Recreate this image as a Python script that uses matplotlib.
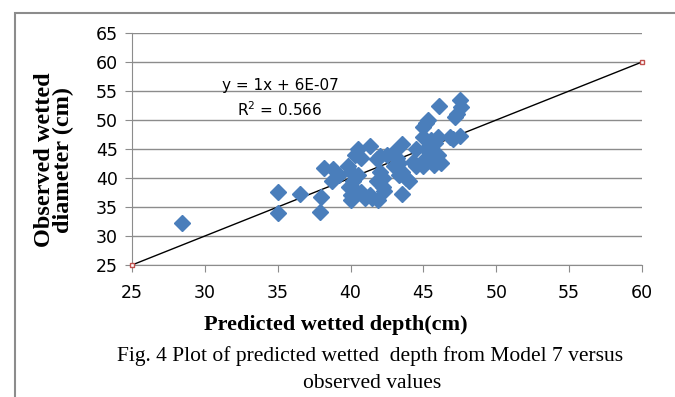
import matplotlib
matplotlib.use('Agg')
import matplotlib.pyplot as plt
from matplotlib.patches import Rectangle

# predicted (x) vs observed (y) wetted values
pred = [28.4, 35.0, 35.0, 36.5, 37.9, 38.0, 38.2, 38.8, 38.7, 39.2,
        39.8, 40.0, 39.9, 40.0, 40.0, 40.3, 40.5, 40.2, 40.5, 40.7,
        40.3, 40.7, 41.0, 41.3, 41.3, 41.5, 41.8, 42.0, 42.0, 42.2,
        41.9, 42.3, 42.5, 41.8, 42.2, 43.0, 43.2, 43.5, 43.3, 43.5,
        43.5, 43.8, 44.0, 43.3, 43.0, 44.5, 44.3, 44.5, 45.0, 45.2,
        45.3, 45.0, 45.5, 45.2, 45.0, 45.0, 45.5, 45.7, 46.0, 46.0,
        46.0, 46.2, 46.1, 45.8, 46.8, 47.0, 47.3, 47.5, 47.6, 47.5, 47.2]
obs = [32.3, 37.5, 34.0, 37.2, 34.2, 36.8, 41.7, 41.5, 39.5, 40.5,
       42.0, 41.0, 38.5, 37.0, 36.2, 38.0, 40.5, 39.5, 45.0, 43.5,
       44.0, 37.5, 36.5, 45.5, 37.0, 36.5, 43.2, 43.8, 41.0, 38.5,
       36.2, 37.8, 44.0, 39.5, 40.0, 44.5, 43.5, 45.8, 42.5, 41.0,
       37.3, 40.0, 39.5, 40.5, 42.0, 45.0, 42.8, 42.0, 48.8, 49.5,
       50.0, 47.0, 46.5, 45.0, 43.0, 42.0, 44.0, 42.3, 47.0, 44.0,
       43.0, 42.5, 52.4, 46.0, 47.0, 46.7, 51.0, 53.5, 52.2, 47.2, 50.5]

line_x = [25, 60]
line_y = [25, 60]

xticks = [25, 30, 35, 40, 45, 50, 55, 60]
yticks = [25, 30, 35, 40, 45, 50, 55, 60, 65]

tick_font = ['Liberation Sans Narrow', 'DejaVu Sans']
serif = ['Liberation Serif', 'DejaVu Serif']

fig = plt.figure(figsize=(6.75, 3.97), dpi=100)
fig.patches.append(Rectangle((15/675, -0.1), 1.0, 1 - 13/397 + 0.1,
                             transform=fig.transFigure, fill=False,
                             edgecolor='#8c8c8c', linewidth=1.5))

ax = fig.add_axes([132/675, 1 - 265/397, 510/675, 232/397])
ax.set_xlim(25, 60)
ax.set_ylim(25, 65)
ax.set_xticks(xticks)
ax.set_yticks(yticks)
ax.grid(axis='y', color='#8c8c8c', linewidth=1)
ax.set_axisbelow(True)
for s in ['top', 'right']:
    ax.spines[s].set_visible(False)
for s in ['left', 'bottom']:
    ax.spines[s].set_color('#8c8c8c')
ax.tick_params(axis='both', colors='#8c8c8c', length=5, labelcolor='black')
ax.tick_params(axis='x', pad=9)
ax.tick_params(axis='y', pad=5)
for lab in ax.get_xticklabels() + ax.get_yticklabels():
    lab.set_family(tick_font)
    lab.set_fontsize(12.5)

ax.plot(line_x, line_y, color='black', linewidth=1, zorder=2)
ax.plot(pred, obs, linestyle='none', marker='D', markersize=8.5,
        color='#4a7ebb', zorder=3)
ax.plot(line_x, line_y, linestyle='none', marker='s', markersize=3.5,
        markerfacecolor='white', markeredgecolor='#c0504d', clip_on=False, zorder=4)

ax.text(31.2, 56.0, 'y = 1x + 6E-07', family=tick_font, fontsize=11,
        ha='left', va='center')
ax.text(32.2, 51.7, 'R$^2$ = 0.566', family=tick_font, fontsize=11,
        ha='left', va='center')

fig.text(54/675, 1 - 160/397, 'Observed wetted\ndiameter (cm)', family=serif,
         fontsize=17.5, fontweight='bold', rotation=90, ha='center',
         va='center', linespacing=0.9)
fig.text(336/675, 1 - 325/397, 'Predicted wetted depth(cm)', family=serif,
         fontsize=16, fontweight='bold', ha='center', va='center')
fig.text(370/675, 1 - 356/397,
         'Fig. 4 Plot of predicted wetted  depth from Model 7 versus',
         family=serif, fontsize=15.5, ha='center', va='center')
fig.text(372/675, 1 - 384/397, 'observed values', family=serif,
         fontsize=15.5, ha='center', va='center')

fig.savefig('out.png', dpi=100)
